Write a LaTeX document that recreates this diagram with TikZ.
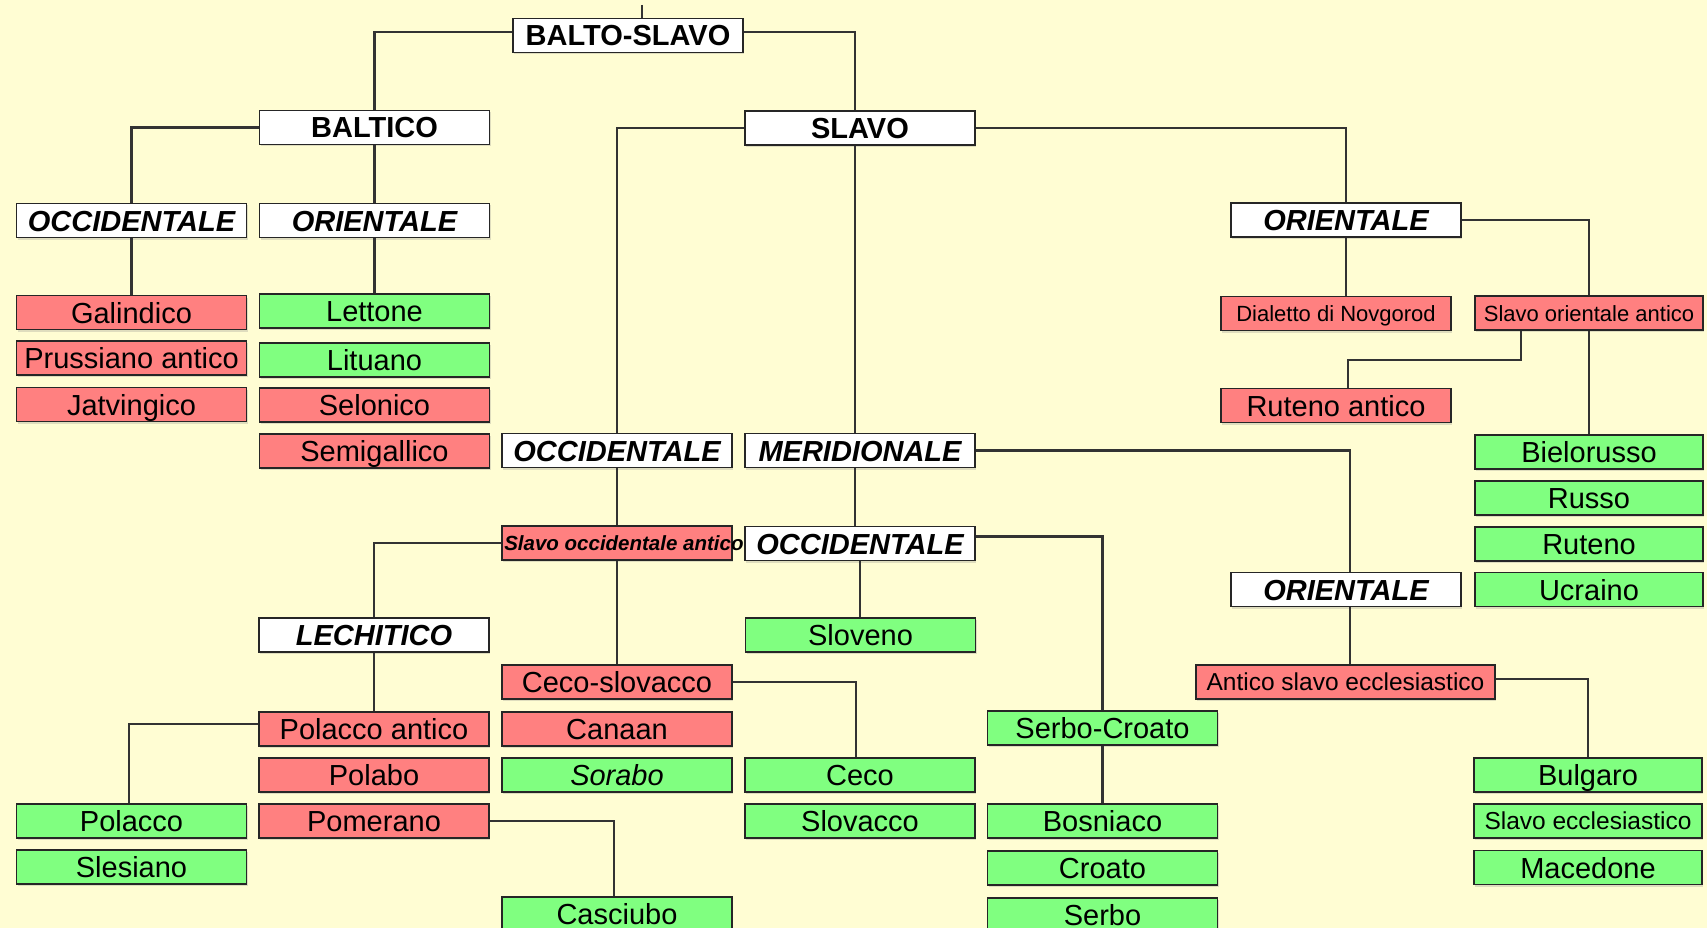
\documentclass[tikz,border=0pt]{standalone}
\usepackage{fontspec}
\setmainfont{Liberation Sans}
\usetikzlibrary{shadows}
\definecolor{bg}{HTML}{FFFDD3}
\definecolor{rd}{HTML}{FF8080}
\definecolor{gr}{HTML}{80FF80}
\definecolor{ln}{HTML}{262626}
\definecolor{wirec}{HTML}{333333}
\begin{document}
\begin{tikzpicture}[x=1pt,y=-1pt,
 box/.style={draw=ln, line width=1.8pt, minimum width=230pt, minimum height=34pt, inner sep=0pt,
   text height=21pt, text depth=0pt, font=\fontsize{29}{30}\selectfont,
   drop shadow={shadow xshift=1pt, shadow yshift=-2pt, opacity=0.25}},
 hdr/.style={box, fill=white, font=\fontsize{29}{30}\selectfont\bfseries\itshape},
 hdru/.style={box, fill=white, font=\fontsize{29}{30}\selectfont\bfseries},
 lost/.style={box, fill=rd},
 live/.style={box, fill=gr},
 narrow/.style={minimum width=228pt},
 small/.style={font=\fontsize{22}{24}\selectfont, text height=16pt},
 mid/.style={font=\fontsize{24.5}{26}\selectfont, text height=17.5pt},
 wire/.style={draw=wirec, line width=2.1pt}]
\path[use as bounding box, fill=bg] (0,0) rectangle (1707,928);

% headers
\node[hdru] (bs) at (628,35.5) {BALTO-SLAVO};
\node[hdru] (baltico) at (374.5,127.5) {BALTICO};
\node[hdru] (slavo) at (860,128) {SLAVO};
\node[hdr] (occB) at (131.5,220.5) {OCCIDENTALE};
\node[hdr] (oriB) at (374.5,220.5) {ORIENTALE};
\node[hdr] (oriE) at (1346,220) {ORIENTALE};

% baltic
\node[lost] (galindico) at (131.5,312.5) {Galindico};
\node[lost] (prussiano) at (131.5,358) {Prussiano antico};
\node[lost] (jatv) at (131.5,404.5) {Jatvingico};
\node[live] (lettone) at (374.5,311) {Lettone};
\node[live] (lituano) at (374.5,360) {Lituano};
\node[lost] (selonico) at (374.5,405) {Selonico};
\node[lost] (semig) at (374.5,451) {Semigallico};

% east slavic
\node[lost, small] (novg) at (1336,313.5) {Dialetto di Novgorod};
\node[lost, small, narrow] (slavoOr) at (1589,313) {Slavo orientale antico};
\node[lost] (rutenoA) at (1336,405.5) {Ruteno antico};
\node[live, narrow] (bielo) at (1589,452) {Bielorusso};
\node[live, narrow] (russo) at (1589,498) {Russo};
\node[live, narrow] (ruteno) at (1589,544) {Ruteno};
\node[live, narrow] (ucraino) at (1589,589.5) {Ucraino};

% west / south slavic
\node[hdr] (occW) at (617,450.5) {OCCIDENTALE};
\node[hdr] (merid) at (860,450.5) {MERIDIONALE};
\node[lost] (slavoOccA) at (617,543) {};
\node[anchor=west, inner sep=0pt, text height=14.5pt, text depth=0pt,
      font=\fontsize{20.5}{22}\selectfont\bfseries\itshape] (slavoOccAtxt)
      at ([xshift=3pt]slavoOccA.west) {Slavo occidentale antico};
\node[hdr] (occM) at (860,543.5) {OCCIDENTALE};
\node[hdr] (oriS) at (1346,589.5) {ORIENTALE};
\node[hdr] (lech) at (374,635) {LECHITICO};
\node[live] (sloveno) at (860.5,635) {Sloveno};
\node[lost] (cecoslov) at (617,682) {Ceco-slovacco};
\node[lost, mid, minimum width=299pt] (antico) at (1345.5,682) {Antico slavo ecclesiastico};
\node[lost] (polaccoA) at (374,729) {Polacco antico};
\node[lost] (canaan) at (617,729) {Canaan};
\node[live] (serbocroato) at (1102.5,728) {Serbo-Croato};
\node[lost] (polabo) at (374,775) {Polabo};
\node[live, font=\fontsize{29}{30}\selectfont\itshape] (sorabo) at (617,775) {Sorabo};
\node[live] (ceco) at (860,775) {Ceco};
\node[live, narrow] (bulgaro) at (1588,775) {Bulgaro};
\node[live] (polacco) at (131.5,821) {Polacco};
\node[lost] (pomerano) at (374,821) {Pomerano};
\node[live] (slovacco) at (860,821) {Slovacco};
\node[live] (bosniaco) at (1102.5,821) {Bosniaco};
\node[live, narrow, mid] (slavoEccl) at (1588,821) {Slavo ecclesiastico};
\node[live] (slesiano) at (131.5,867) {Slesiano};
\node[live] (croato) at (1102.5,868) {Croato};
\node[live, narrow] (macedone) at (1588,867.5) {Macedone};
\node[live] (casciubo) at (617,914) {Casciubo};
\node[live] (serbo) at (1102.5,915) {Serbo};

% connectors
\coordinate (top) at (642,5);
\draw[wire] (top) -- (top |- bs.north);
\draw[wire] ([yshift=3.5pt]bs.west) -| (baltico.north);
\draw[wire] ([yshift=3.5pt]bs.east) -| ([xshift=-5pt]slavo.north);
\draw[wire] ([xshift=-5pt]slavo.south) -- ([xshift=-5pt]merid.north);
\draw[wire] (slavo.west) -| (occW.north);
\draw[wire] (slavo.east) -| (oriE.north);
\draw[wire] (baltico.west) -| (occB.north);
\draw[wire] (baltico.south) -- (oriB.north);
\draw[wire] (occB.south) -- (galindico.north);
\draw[wire] (oriB.south) -- (lettone.north);
\draw[wire] (oriE.south) -- (oriE.south |- novg.north);
\draw[wire] (oriE.east) -| (slavoOr.north);
\draw[wire] ([xshift=-68pt]slavoOr.south) -- ++(0,29) -| ([xshift=12pt]rutenoA.north);
\draw[wire] (slavoOr.south) -- (bielo.north);
\draw[wire] (occW.south) -- (slavoOccA.north);
\draw[wire] ([xshift=-5pt]merid.south) -- ([xshift=-5pt]occM.north);
\draw[wire] (merid.east) -| ([xshift=4pt]oriS.north);
\draw[wire] ([xshift=4pt]oriS.south) -- ([xshift=4pt]oriS.south |- antico.north);
\draw[wire] ([yshift=3pt]antico.east) -| (bulgaro.north);
\draw[wire] ([yshift=7pt]occM.east) -| (serbocroato.north);
\draw[wire] (occM.south) -- (occM.south |- sloveno.north);
\draw[wire] (serbocroato.south) -- (bosniaco.north);
\draw[wire] (slavoOccA.west) -| (lech.north);
\draw[wire] (slavoOccA.south) -- (cecoslov.north);
\draw[wire] (cecoslov.east) -| ([xshift=-4pt]ceco.north);
\draw[wire] (lech.south) -- (polaccoA.north);
\draw[wire] ([yshift=5pt]polaccoA.west) -| ([xshift=-2.5pt]polacco.north);
\draw[wire] (pomerano.east) -| ([xshift=-3pt]casciubo.north);
\end{tikzpicture}
\end{document}
